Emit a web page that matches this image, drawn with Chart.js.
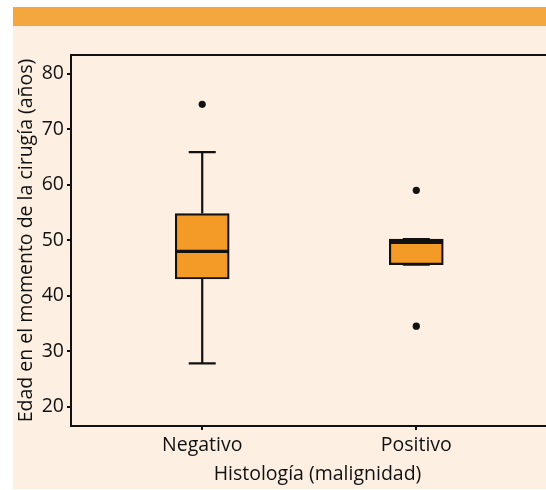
<!DOCTYPE html>
<html>
<head>
<meta charset="utf-8">
<script src="https://cdn.jsdelivr.net/npm/chart.js@4.4.1/dist/chart.umd.min.js"></script>
<style>
  html, body { margin: 0; padding: 0; background: #fff; overflow: hidden; width: 546px; height: 490px; }
  #band { position: absolute; left: 13px; top: 7px; width: 533px; height: 19px; background: #f5a73f; }
  #chart { position: absolute; left: 13px; top: 26px; background: #fdf0e3; }
</style>
</head>
<body>
<div id="band"></div>
<canvas id="chart" width="555" height="463"></canvas>
<script>
// box plot values
const categories = ["Negativo", "Positivo"]
const whiskerLow = [27.8, 45.6]
const q1 = [43.0, 45.6]
const median = [48.0, 49.6]
const q3 = [54.8, 50.2]
const whiskerHigh = [65.9, 50.2]
const outliers = [[74.5], [59.0, 34.5]]
const yTicks = [20, 30, 40, 50, 60, 70, 80]

const boxColor = '#f39a27'
const ink = '#111'
const fontFamily = "'Open Sans', sans-serif"
const fontSize = 19.5

const xPos = categories.map((c, i) => i + 1)

const boxData = xPos.map((x, i) => ({ x: x, y: [q1[i], q3[i]] }))
const outlierData = []
outliers.forEach((list, i) => {
  list.forEach(v => outlierData.push({ x: xPos[i], y: v }))
})

// whiskers, caps, medians and the top frame line
const boxPlotLines = {
  id: 'boxPlotLines',
  beforeDatasetsDraw(chart) {
    const { ctx, scales: { x, y } } = chart
    ctx.save()
    ctx.strokeStyle = ink
    ctx.lineWidth = 2.2
    xPos.forEach((v, i) => {
      const px = x.getPixelForValue(v)
      ctx.beginPath()
      ctx.moveTo(px, y.getPixelForValue(q3[i]))
      ctx.lineTo(px, y.getPixelForValue(whiskerHigh[i]))
      ctx.moveTo(px, y.getPixelForValue(q1[i]))
      ctx.lineTo(px, y.getPixelForValue(whiskerLow[i]))
      ctx.stroke()
    })
    ctx.restore()
  },
  afterDatasetsDraw(chart) {
    const { ctx, chartArea, scales: { x, y } } = chart
    ctx.save()
    ctx.strokeStyle = ink
    xPos.forEach((v, i) => {
      const px = x.getPixelForValue(v)
      ctx.lineWidth = 2.2
      ctx.beginPath()
      ctx.moveTo(px - 13.5, y.getPixelForValue(whiskerHigh[i]))
      ctx.lineTo(px + 13.5, y.getPixelForValue(whiskerHigh[i]))
      ctx.moveTo(px - 13.5, y.getPixelForValue(whiskerLow[i]))
      ctx.lineTo(px + 13.5, y.getPixelForValue(whiskerLow[i]))
      ctx.stroke()
      ctx.lineWidth = 3.3
      ctx.beginPath()
      ctx.moveTo(px - 26, y.getPixelForValue(median[i]))
      ctx.lineTo(px + 26, y.getPixelForValue(median[i]))
      ctx.stroke()
    })
    ctx.lineWidth = 2
    ctx.beginPath()
    ctx.moveTo(chartArea.left - 1, chartArea.top)
    ctx.lineTo(chartArea.right, chartArea.top)
    ctx.stroke()
    ctx.restore()
  }
}

new Chart(document.getElementById('chart'), {
  type: 'bar',
  data: {
    datasets: [
      {
        data: boxData,
        backgroundColor: boxColor,
        borderColor: ink,
        borderWidth: 2.2,
        borderSkipped: false,
        barThickness: 54
      },
      {
        type: 'scatter',
        data: outlierData,
        pointRadius: 3.6,
        pointBackgroundColor: ink,
        pointBorderWidth: 0
      }
    ]
  },
  options: {
    responsive: false,
    animation: false,
    layout: { padding: { top: 29, right: 0, bottom: 0, left: 0 } },
    plugins: { legend: { display: false }, tooltip: { enabled: false } },
    scales: {
      x: {
        type: 'linear',
        offset: false,
        min: 0.387,
        max: 2.69,
        afterBuildTicks: scale => { scale.ticks = xPos.map(v => ({ value: v })) },
        afterFit: scale => { scale.height = 63 },
        ticks: {
          callback: v => categories[v - 1],
          color: ink,
          padding: 4,
          maxRotation: 0,
          font: { family: fontFamily, size: fontSize }
        },
        grid: { offset: false, drawOnChartArea: false, drawTicks: true, tickLength: 4, color: ink, lineWidth: 2 },
        border: { display: true, color: ink, width: 2 },
        title: {
          display: true,
          text: 'Histología (malignidad)',
          color: ink,
          padding: { top: 0, bottom: 3 },
          font: { family: fontFamily, size: fontSize }
        }
      },
      y: {
        min: 16.5,
        max: 83.4,
        afterBuildTicks: scale => { scale.ticks = yTicks.map(v => ({ value: v })) },
        afterFit: scale => { scale.width = 58 },
        ticks: {
          color: ink,
          padding: 3,
          font: { family: fontFamily, size: fontSize }
        },
        grid: { drawOnChartArea: false, drawTicks: true, tickLength: 4, color: ink, lineWidth: 2 },
        border: { display: true, color: ink, width: 2 },
        title: {
          display: true,
          text: 'Edad en el momento de la cirugía (años)',
          color: ink,
          padding: { top: 1.5, bottom: 0 },
          font: { family: fontFamily, size: fontSize }
        }
      }
    }
  },
  plugins: [boxPlotLines]
})
</script>
</body>
</html>
